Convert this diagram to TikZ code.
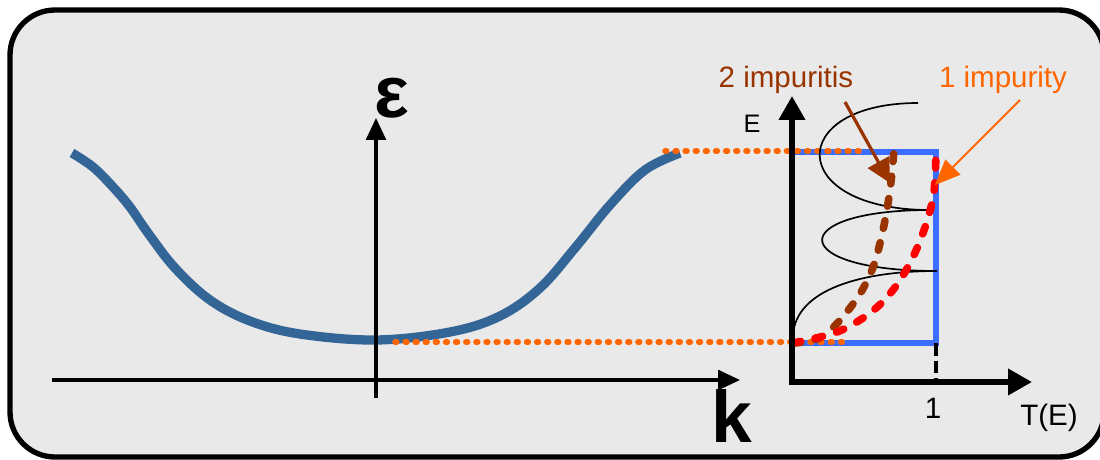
\documentclass[tikz,border=0pt]{standalone}
\usepackage{fontspec}
\setmainfont{Liberation Sans}
\usepackage{tikz}
\usetikzlibrary{arrows.meta}
\definecolor{panelgray}{RGB}{233,233,233}
\definecolor{bandblue}{RGB}{52,101,151}
\definecolor{rectblue}{RGB}{59,110,255}
\definecolor{dotorange}{RGB}{255,102,0}
\definecolor{twobrown}{RGB}{153,51,0}

\begin{document}
\begin{tikzpicture}[
  x = 0.025cm, y = -0.025cm,
  font          = \fontsize{21}{25}\selectfont,
  % pixel-like units: 1 unit = 0.025 cm, y grows downwards
  axthin/.style  = {line width=2.4pt, -{Triangle[length=15.6pt, width=14pt]}},
  axthick/.style = {line width=4pt, -{Triangle[length=17pt, width=18pt]}},
  level/.style   = {dotorange, line width=4pt, line cap=round,
                    dash pattern=on 1.2pt off 6pt},
  trans/.style   = {line width=5.4pt, line cap=round,
                    dash pattern=on 5.5pt off 10.5pt},
  big/.style     = {font=\fontsize{52}{60}\selectfont\bfseries, inner sep=0pt},
  lbl/.style     = {inner sep=0pt},
]
\useasboundingbox (0,0) rectangle (1100,460);

% ── Panel ──────────────────────────────────────────────────────────────────────
\draw[line width=3.8pt, fill=panelgray, rounded corners=32pt]
     (10,10) rectangle (1104,457);

% ── Axes anchors ───────────────────────────────────────────────────────────────
\coordinate (kx0)  at (52,380);
\coordinate (kx1)  at (740,380);
\coordinate (ey0)  at (376,398);
\coordinate (ey1)  at (376,118);
\coordinate (orig) at (792,382);
\coordinate (Etop) at (792,96);
\coordinate (Tend) at (1032,382);
\coordinate (tick) at (936,382);
\coordinate (top)  at (936,152);
\coordinate (bot)  at (936,343);

% ── Transmission box ───────────────────────────────────────────────────────────
\draw[rectblue, line width=4pt] (792,152) -- (top) -- (bot) -- (792,343);
\draw[line width=2.3pt, dash pattern=on 9pt off 3.5pt] (bot) -- (tick);

% ── Band ───────────────────────────────────────────────────────────────────────
\draw[bandblue, line width=6.6pt] plot[smooth, tension=0.6] coordinates {
  (72,153) (93,167) (113,187) (130,207) (148,233) (175,268) (210,300)
  (250,321) (300,334) (376,340) (450,332) (500,316) (540,288) (575,248)
  (610,205) (645,170) (680,153)};

% ── Band edges ─────────────────────────────────────────────────────────────────
\draw[level] (665,151) -- (862,151);
\draw[level] (395,342) -- (843,342);

% ── Resonances ─────────────────────────────────────────────────────────────────
\draw[line width=1.2pt]
  (793,335) .. controls (796,290) and (860,271) .. (937,271)
            .. controls (785,271) and (785,210) .. (930,210)
            .. controls (785,210) and (785,103) .. (918,103);

\draw[trans, twobrown] plot[smooth, tension=0.6] coordinates {
  (793,343) (823,336) (853,304) (872,270) (883,230) (890,190) (894,150)};
\draw[trans, red] plot[smooth, tension=0.6] coordinates {
  (793,343) (837,332) (870,313) (893,290) (910,263) (923,233) (932,203)
  (935,180) (936,150)};

% ── Axes ───────────────────────────────────────────────────────────────────────
\draw[axthin]  (kx0) -- (kx1);
\draw[axthin]  (ey0) -- (ey1);
\draw[axthick] (orig) -- (Etop);
\draw[axthick] ([xshift=-2pt]orig) -- (Tend);

% ── Labels ─────────────────────────────────────────────────────────────────────
\node[big] (eps)  at (392,98)  {ε};
\node[big] (kay)  at (732,416) {k};
\node[lbl, font=\fontsize{18}{22}\selectfont] (lblE) at (752,124) {E};
\node[lbl] (lblone) at (933,408)  {1};
\node[lbl] (lblT)   at (1049,418) {T(E)};
\node[lbl, twobrown]  (twoimp) at (786,80)  {2 impuritis};
\node[lbl, dotorange] (oneimp) at (1003,80) {1 impurity};

\coordinate (tail2) at (845,102);
\coordinate (tip2)  at (890,183);
\coordinate (tail1) at (1020,100);
\coordinate (tip1)  at (935,185);
\draw[twobrown, line width=2.3pt, -{Triangle[length=17pt, width=17pt]}]
     (tail2) -- (tip2);
\draw[dotorange, line width=1.3pt, -{Triangle[length=18pt, width=15pt]}]
     (tail1) -- (tip1);

\end{tikzpicture}
\end{document}
